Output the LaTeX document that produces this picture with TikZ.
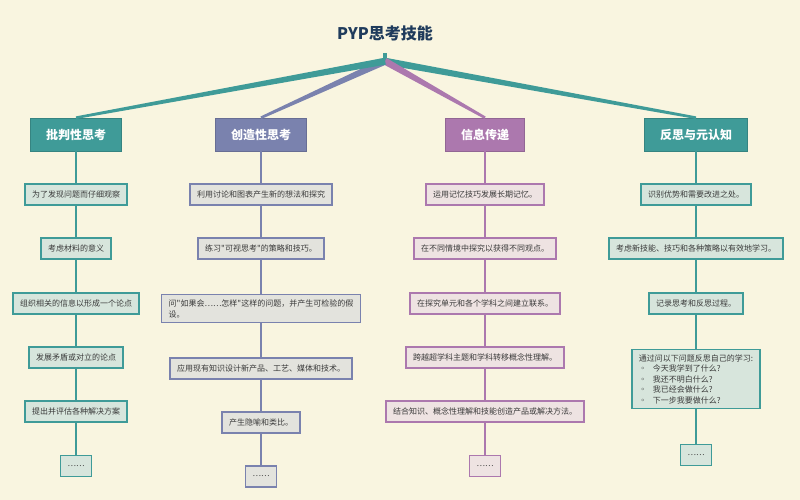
\documentclass[tikz,border=0pt]{standalone}
\usepackage{fontspec}
\setmainfont{Noto Sans CJK SC}[Ligatures=TeXOff]
\usepackage{tikz}
\usetikzlibrary{calc,positioning}
\definecolor{pypbg}{HTML}{F9F5E0}
\definecolor{pypnavy}{HTML}{1F3B5C}
\definecolor{pypteal}{HTML}{3F9B98}
\definecolor{pypslate}{HTML}{7A82AE}
\definecolor{pypplum}{HTML}{AC78AE}
\definecolor{pypink}{HTML}{3A3A3A}
\definecolor{tealfill}{HTML}{D7E5DC}
\definecolor{slatefill}{HTML}{E3E3DD}
\definecolor{plumfill}{HTML}{EEE3E2}

\tikzset{
  catbox/.style={fill=#1, draw=#1!85!black, line width=0.6pt, text=white,
    font=\fontsize{12}{13}\selectfont\bfseries, minimum height=33pt,
    inner xsep=15.5pt, inner ysep=0pt},
  item/.style={line width=1.5pt, text=pypink, font=\fontsize{8}{11}\selectfont,
    minimum height=21pt, inner xsep=7pt, inner ysep=5pt},
  tealitem/.style={item, draw=pypteal, fill=tealfill},
  slateitem/.style={item, draw=pypslate, fill=slatefill},
  plumitem/.style={item, draw=pypplum, fill=plumfill},
  stem/.style={draw=#1, line width=1.5pt}
}
% tapered branch from the hub to a category box
\newcommand{\pypbranch}[2]{%
  \fill[#1] ($(hub)!3.5pt!90:(#2.north)$) -- ($(#2.north)!1.3pt!-90:(hub)$)
    -- ($(#2.north)!1.3pt!90:(hub)$) -- ($(hub)!3.5pt!-90:(#2.north)$) -- cycle;}

\begin{document}
\begin{tikzpicture}[x=1pt,y=-1pt]
\fill[pypbg] (0,0) rectangle (800,500);
\useasboundingbox (0,0) rectangle (800,500);

\node[font=\fontsize{16}{18}\selectfont\bfseries, text=pypnavy] (title) at (385,33) {PYP思考技能};
\node[fill=pypteal, minimum width=4pt, minimum height=8pt, inner sep=0pt] (root) at (385,57) {};
\coordinate (hub) at (root.south);

% categories
\node[catbox=pypteal] (crit) at (76,134.5) {批判性思考};
\node[catbox=pypslate] (crea) at (261,134.5) {创造性思考};
\node[catbox=pypplum] (info) at (485,134.5) {信息传递};
\node[catbox=pypteal] (refl) at (696,134.5) {反思与元认知};

\pypbranch{pypteal}{refl}
\pypbranch{pypplum}{info}
\pypbranch{pypslate}{crea}
\pypbranch{pypteal}{crit}

% critical thinking
\node[tealitem] (crit1) at (76,194.5) {为了发现问题而仔细观察};
\node[tealitem] (crit2) at (76,248.5) {考虑材料的意义};
\node[tealitem] (crit3) at (76,303.5) {组织相关的信息以形成一个论点};
\node[tealitem] (crit4) at (76,357.5) {发展矛盾或对立的论点};
\node[tealitem] (crit5) at (76,411.5) {提出并评估各种解决方案};
\node[tealitem] (crit6) at (76,466) {……};

% creative thinking
\node[slateitem] (crea1) at (261,194.5) {利用讨论和图表产生新的想法和探究};
\node[slateitem] (crea2) at (261,248.5) {练习"可视思考"的策略和技巧。};
\node[slateitem, align=left] (crea3) at (261,308.5) {问"如果会……怎样"这样的问题，并产生可检验的假\\设。};
\node[slateitem] (crea4) at (261,368.5) {应用现有知识设计新产品、工艺、媒体和技术。};
\node[slateitem] (crea5) at (261,422.5) {产生隐喻和类比。};
\node[slateitem] (crea6) at (261,476.5) {……};

% communication
\node[plumitem] (info1) at (485,194.5) {运用记忆技巧发展长期记忆。};
\node[plumitem] (info2) at (485,248.5) {在不同情境中探究以获得不同观点。};
\node[plumitem] (info3) at (485,303.5) {在探究单元和各个学科之间建立联系。};
\node[plumitem] (info4) at (485,357.5) {跨越超学科主题和学科转移概念性理解。};
\node[plumitem] (info5) at (485,411.5) {结合知识、概念性理解和技能创造产品或解决方法。};
\node[plumitem] (info6) at (485,466) {……};

% reflection and metacognition
\node[tealitem, align=left] (refl1) at (696,194.5) {识别优势和需要改进之处。};
\node[tealitem] (refl2) at (696,248.5) {考虑新技能、技巧和各种策略以有效地学习。};
\node[tealitem] (refl3) at (696,303.5) {记录思考和反思过程。};
\node[tealitem, align=left, font=\fontsize{8}{10.5}\selectfont] (refl4) at (696,379) {通过问以下问题反思自己的学习:\\
  ◦\hspace{6pt}今天我学到了什么?\\
  ◦\hspace{6pt}我还不明白什么?\\
  ◦\hspace{6pt}我已经会做什么?\\
  ◦\hspace{6pt}下一步我要做什么?};
\node[tealitem] (refl5) at (696,455) {……};

% stems
\draw[stem=pypteal] (crit) -- (crit1) -- (crit2) -- (crit3) -- (crit4) -- (crit5) -- (crit6);
\draw[stem=pypslate] (crea) -- (crea1) -- (crea2) -- (crea3) -- (crea4) -- (crea5) -- (crea6);
\draw[stem=pypplum] (info) -- (info1) -- (info2) -- (info3) -- (info4) -- (info5) -- (info6);
\draw[stem=pypteal] (refl) -- (refl1) -- (refl2) -- (refl3) -- (refl4) -- (refl5);
\end{tikzpicture}
\end{document}
